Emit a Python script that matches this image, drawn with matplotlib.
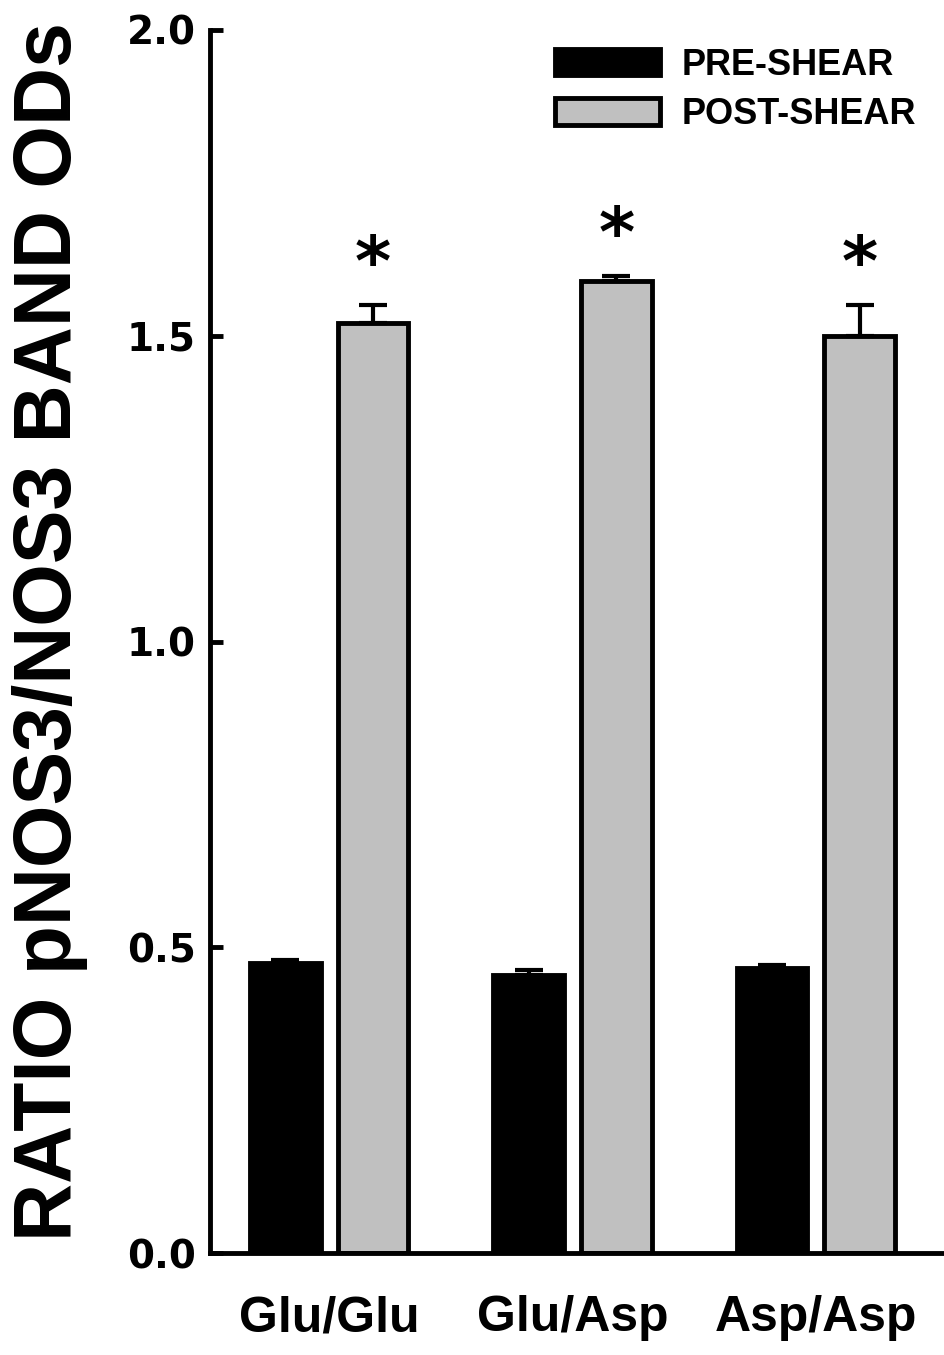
import matplotlib
matplotlib.use("Agg")
import matplotlib.pyplot as plt
import numpy as np

# values
groups = ["Glu/Glu", "Glu/Asp", "Asp/Asp"]
pre_shear = [0.475, 0.455, 0.466]
pre_err = [0.004, 0.008, 0.005]
post_shear = [1.52, 1.59, 1.50]
post_err = [0.03, 0.007, 0.05]
significant = [True, True, True]

sans = ["Liberation Sans", "DejaVu Sans"]

fig = plt.figure(figsize=(9.45, 13.55), dpi=100)
ax = fig.add_axes([0.222, 0.075, 0.778, 0.903])

x = np.arange(len(groups))
w = 0.29
off = 0.18
lw = 3.5

ax.bar(x - off, pre_shear, w, color="black", edgecolor="black", linewidth=lw,
       label="PRE-SHEAR", zorder=2)
ax.bar(x + off, post_shear, w, color="#c0c0c0", edgecolor="black", linewidth=lw,
       label="POST-SHEAR", zorder=2)

ax.errorbar(x - off, pre_shear, yerr=[np.zeros(3), pre_err], fmt="none",
            ecolor="black", elinewidth=3, capsize=10, capthick=3, zorder=3)
ax.errorbar(x + off, post_shear, yerr=[np.zeros(3), post_err], fmt="none",
            ecolor="black", elinewidth=3, capsize=10, capthick=3, zorder=3)

for i in range(len(groups)):
    if significant[i]:
        ax.text(x[i] + off, post_shear[i] + post_err[i] + 0.065, "*",
                ha="center", va="center", fontsize=50, fontweight="bold",
                family="DejaVu Sans")

ax.set_ylim(0, 2.0)
ax.set_xlim(-0.49, 2.53)
ax.set_yticks([0.0, 0.5, 1.0, 1.5, 2.0])
ax.set_yticklabels(["0.0", "0.5", "1.0", "1.5", "2.0"], fontsize=28,
                   fontweight="bold", family="DejaVu Sans")
ax.tick_params(axis="y", direction="in", length=9, width=3.5, pad=10)
ax.set_xticks(x)
ax.set_xticklabels(groups, fontsize=36, fontweight="bold", family=sans)
ax.tick_params(axis="x", length=0, pad=30)

for s in ["top", "right"]:
    ax.spines[s].set_visible(False)
ax.spines["left"].set_linewidth(3.5)
ax.spines["bottom"].set_linewidth(3.5)

ax.set_ylabel("RATIO pNOS3/NOS3 BAND ODs", fontsize=58, fontweight="bold",
              family=sans)
ax.yaxis.set_label_coords(-0.165, 0.508)

leg = ax.legend(loc="upper right", bbox_to_anchor=(1.005, 1.012), frameon=False,
                prop={"family": sans, "weight": "bold", "size": 26},
                handlelength=2.9, handleheight=0.75, handletextpad=0.6,
                labelspacing=0.4)

fig.savefig("out.png", dpi=100)
